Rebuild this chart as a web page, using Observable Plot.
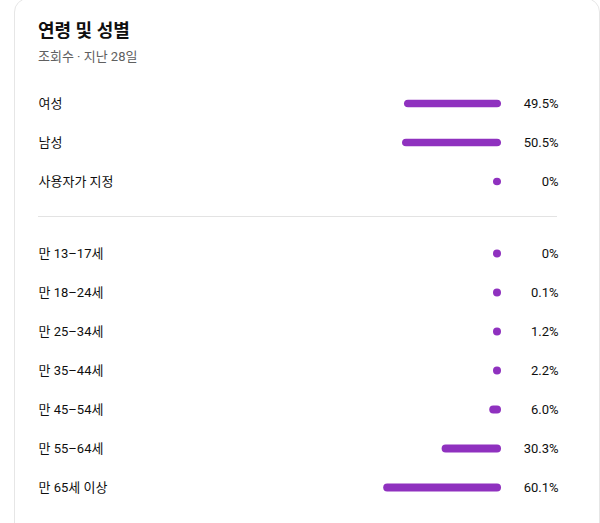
<!DOCTYPE html>
<html>
<head>
<meta charset="utf-8">
<script src="https://cdn.jsdelivr.net/npm/d3@7"></script>
<script src="https://cdn.jsdelivr.net/npm/@observablehq/plot@0.6"></script>
<style>
  html, body { margin: 0; padding: 0; background: #fff; width: 600px; height: 523px; overflow: hidden; }
  body { font-family: Roboto, "Noto Sans CJK KR", sans-serif; color: #0f0f0f; position: relative; }
  #card { position: absolute; left: 14px; top: -2px; width: 586px; height: 560px; border: 1px solid #e6e6e6; border-radius: 14px; box-sizing: border-box; }
  #title { position: absolute; left: 38px; top: 19px; font-size: 18px; font-weight: 700; line-height: 24px; white-space: nowrap; }
  #subtitle { position: absolute; left: 38px; top: 48px; font-size: 13px; color: #606060; line-height: 18px; white-space: nowrap; }
  #gender { position: absolute; left: 0; top: 83px; }
  #divider { position: absolute; left: 38px; top: 216px; width: 519px; height: 1px; background: #e3e3e3; }
  #age { position: absolute; left: 0; top: 233px; }
</style>
</head>
<body>
<div id="card"></div>
<div id="title">연령 및 성별</div>
<div id="subtitle">조회수 · 지난 28일</div>
<div id="gender"></div>
<div id="divider"></div>
<div id="age"></div>
<script>
const genderLabels = ["여성", "남성", "사용자가 지정"];
const genderValues = [49.5, 50.5, 0];
const genderText = ["49.5%", "50.5%", "0%"];

const ageLabels = ["만 13–17세", "만 18–24세", "만 25–34세", "만 35–44세", "만 45–54세", "만 55–64세", "만 65세 이상"];
const ageValues = [0, 0.1, 1.2, 2.2, 6.0, 30.3, 60.1];
const ageText = ["0%", "0.1%", "1.2%", "2.2%", "6.0%", "30.3%", "60.1%"];

const barColor = "#8f31bf";
const fontFamily = "Roboto, 'Noto Sans CJK KR', sans-serif";
const pxPerUnit = 1.96;      // bar length per percent
const minUnits = 8 / pxPerUnit; // smallest bar renders as a dot

function makeChart(labels, values, texts, h) {
  const data = labels.map((label, i) => ({label, value: values[i], text: texts[i]}));
  const inset = (h / labels.length - 8) / 2;
  return Plot.plot({
    width: 600,
    height: h,
    marginTop: 0,
    marginBottom: 0,
    marginLeft: 38,
    marginRight: 42,
    style: {fontFamily, fontSize: "13px", color: "#0f0f0f", background: "transparent"},
    x: {domain: [0, 100], range: [501, 501 - 100 * pxPerUnit], axis: null},
    y: {domain: labels, padding: 0, axis: null},
    marks: [
      Plot.barX(data, {
        y: "label",
        x1: 0,
        x2: d => Math.max(d.value, minUnits),
        fill: barColor,
        rx: 4,
        insetTop: inset,
        insetBottom: inset
      }),
      Plot.text(data, {y: "label", text: "label", frameAnchor: "left", textAnchor: "start", fill: "#0f0f0f", fontSize: 13}),
      Plot.text(data, {y: "label", text: "text", frameAnchor: "right", textAnchor: "end", fill: "#0f0f0f", fontSize: 13})
    ]
  });
}

document.getElementById("gender").append(makeChart(genderLabels, genderValues, genderText, 118));
document.getElementById("age").append(makeChart(ageLabels, ageValues, ageText, 274));
</script>
</body>
</html>
